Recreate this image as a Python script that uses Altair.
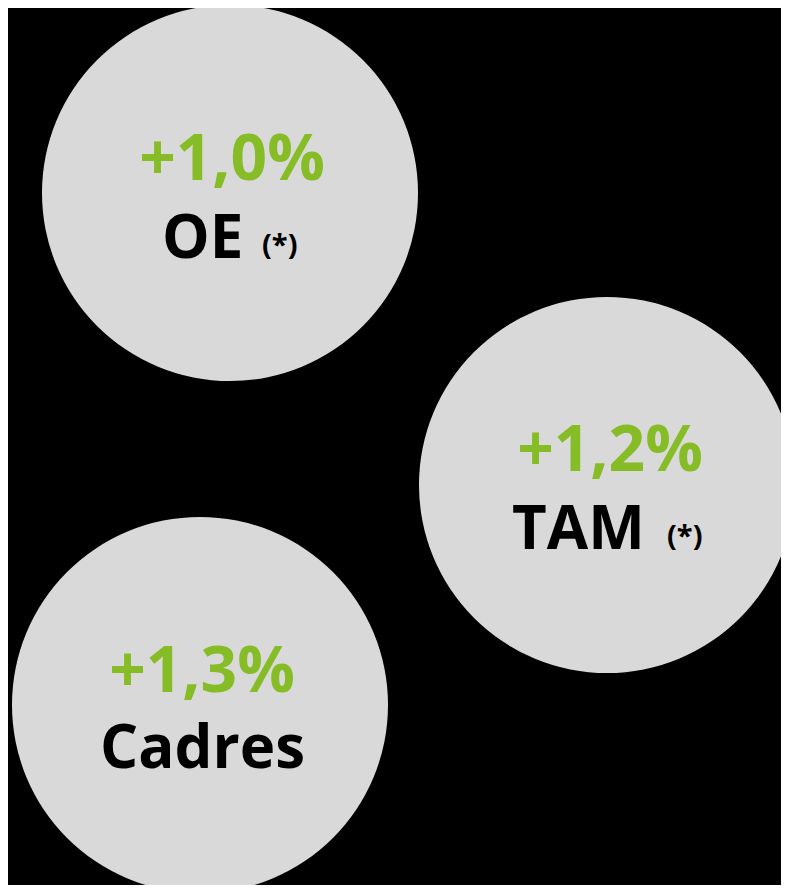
import altair as alt
import pandas as pd

# Data
categories = ["OE", "TAM", "Cadres"]
values = ["+1,0%", "+1,2%", "+1,3%"]
footnotes = ["(*)", "(*)", ""]

# Layout (page pixel coordinates)
cx = [230, 607, 200]
cy = [193, 485, 705]
radius = 188
val_x = [232, 610, 202]
val_y = [180, 471, 692]
lab_x = [162, 512, 100]
lab_y = [258, 549, 768]
note_x = [262, 667, 0]
note_y = [255, 546, 0]

circles = pd.DataFrame({"cat": categories, "x": cx, "y": cy})
vals = pd.DataFrame({"t": values, "x": val_x, "y": val_y})
labs = pd.DataFrame({"t": categories, "x": lab_x, "y": lab_y})
notes = pd.DataFrame({"t": footnotes, "x": note_x, "y": note_y})
notes = notes[notes["t"] != ""]

W, H = 773, 877
xs = alt.Scale(domain=[8, 8 + W], range=[0, W], nice=False, zero=False)
ys = alt.Scale(domain=[8, 8 + H], range=[0, H], nice=False, zero=False)
X = lambda: alt.X("x:Q", scale=xs, axis=None)
Y = lambda: alt.Y("y:Q", scale=ys, axis=None)

font = "Open Sans"

c = alt.Chart(circles).mark_point(
    shape="circle", filled=True, color="#D9D9D9", opacity=1, size=4 * radius * radius
).encode(x=X(), y=Y())

v = alt.Chart(vals).mark_text(
    font=font, fontWeight="bold", fontSize=64, color="#86BC25",
    align="center", baseline="alphabetic"
).encode(x=X(), y=Y(), text="t:N")

l = alt.Chart(labs).mark_text(
    font=font, fontWeight="bold", fontSize=60, color="#000000",
    align="left", baseline="alphabetic"
).encode(x=X(), y=Y(), text="t:N")

n = alt.Chart(notes).mark_text(
    font=font, fontWeight="bold", fontSize=29, color="#000000",
    align="left", baseline="alphabetic"
).encode(x=X(), y=Y(), text="t:N")

chart = alt.layer(c, v, l, n).properties(
    width=W, height=H, background="#000000", padding=0,
    autosize=alt.AutoSizeParams(type="none")
).configure_view(stroke=None)

chart.save("out.html", embed_options={"renderer": "svg", "actions": False})
